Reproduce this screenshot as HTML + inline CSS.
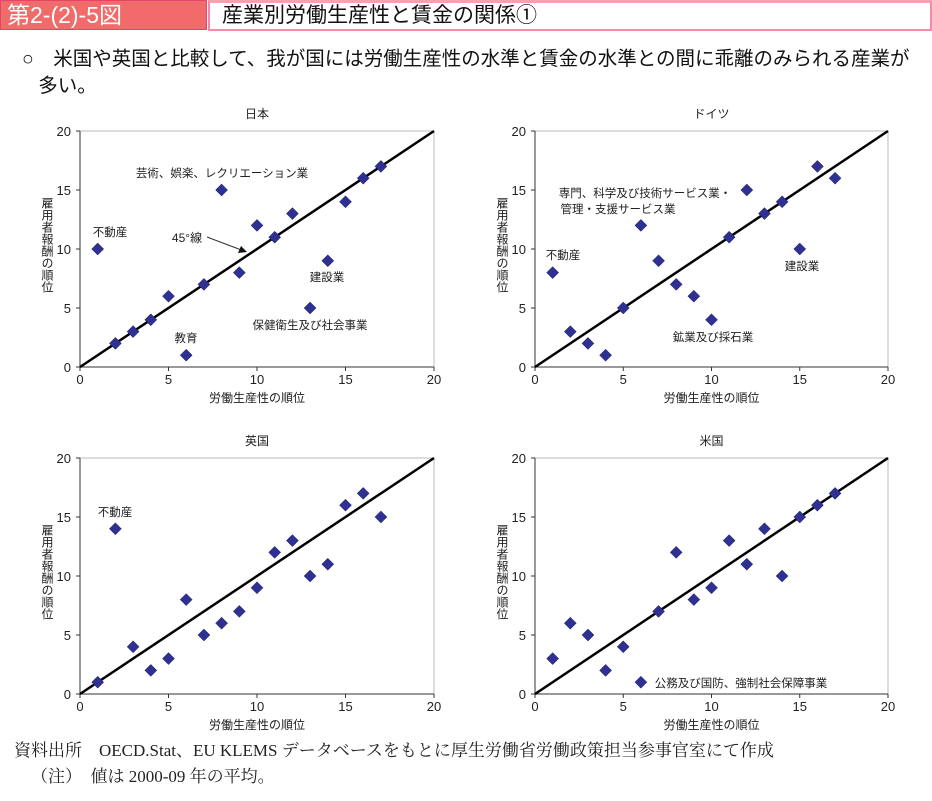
<!DOCTYPE html>
<html><head><meta charset="utf-8"><style>
body{margin:0;width:932px;height:801px;background:#fff;overflow:hidden;font-family:"Liberation Sans","Noto Sans CJK JP",sans-serif;}
#hdr1{position:absolute;left:0;top:0;width:207px;height:30px;background:#f26b6b;border:1px solid #e0456a;box-sizing:border-box;color:#fff;font-size:23px;line-height:28px;padding-left:6px;}
#hdr2{position:absolute;left:208px;top:0;width:724px;height:31px;border:2px solid #f48aa8;border-top:3px solid #f7a0b0;box-sizing:border-box;font-size:21px;line-height:26px;padding-left:12px;color:#111}
#lead{position:absolute;left:22px;top:46px;font-size:19.5px;line-height:27px;color:#111;width:910px}
#src{position:absolute;left:14px;top:738px;font-family:"Liberation Serif","Noto Serif CJK SC",serif;font-size:17px;line-height:26px;color:#222}
svg{position:absolute;left:0;top:0}
</style></head><body>
<div id="hdr1">第2-(2)-5図</div>
<div id="hdr2">産業別労働生産性と賃金の関係①</div>
<div id="lead">○　米国や英国と比較して、我が国には労働生産性の水準と賃金の水準との間に乖離のみられる産業が<br>&nbsp;&nbsp;&nbsp;多い。</div>
<div id="src">資料出所　OECD.Stat、EU KLEMS データベースをもとに厚生労働省労働政策担当参事官室にて作成<br>&nbsp;&nbsp;&nbsp;&nbsp;（注）　値は 2000-09 年の平均。</div>
<svg id="chart" width="932" height="801"></svg>
<script>
const categories = [1,2,3,4,5,6,7,8,9,10,11,12,13,14,15,16,17];
const japanValues = [10,2,3,4,6,1,7,15,8,12,11,13,5,9,14,16,17];
const germanyValues = [8,3,2,1,5,12,9,7,6,4,11,15,13,14,10,17,16];
const ukValues = [1,14,4,2,3,8,5,6,7,9,12,13,10,11,16,17,15];
const usValues = [3,6,5,2,4,1,7,12,8,9,13,11,14,10,15,16,17];
const tickLabels = [0,5,10,15,20];

const NS='http://www.w3.org/2000/svg';
const svg=document.getElementById('chart');
function mk(tag,attrs,parent){const e=document.createElementNS(NS,tag);for(const k in attrs)e.setAttribute(k,attrs[k]);(parent||svg).appendChild(e);return e;}
function txt(s,x,y,size,anchor,parent){const t=mk('text',{x:x,y:y,'font-size':size,'text-anchor':anchor||'middle',fill:'#222','font-family':'"Liberation Sans","Noto Sans CJK JP",sans-serif'},parent);t.textContent=s;return t;}

const panels=[
 {title:'日本',key:'japan',vals:japanValues,x0:80,x1:434,y0:367,y1:131,
  notes:[['芸術、娯楽、レクリエーション業',222,177],['不動産',110,236],['建設業',327,281],['保健衛生及び社会事業',310,329],['教育',186,342]]},
 {title:'ドイツ',key:'germany',vals:germanyValues,x0:535,x1:888,y0:367,y1:131,
  notes:[['専門、科学及び技術サービス業・',645,197],['管理・支援サービス業',618,213],['不動産',563,259],['建設業',802,270],['鉱業及び採石業',713,341]]},
 {title:'英国',key:'uk',vals:ukValues,x0:80,x1:434,y0:694,y1:458,
  notes:[['不動産',115,516]]},
 {title:'米国',key:'us',vals:usValues,x0:535,x1:888,y0:694,y1:458,
  notes:[['公務及び国防、強制社会保障事業',741,687]]}
];

panels.forEach(p=>{
  const g=mk('g',{});
  
  
  const sx=v=>p.x0+(p.x1-p.x0)*v/20;
  const sy=v=>p.y0-(p.y0-p.y1)*v/20;
  const t=txt(p.title,(p.x0+p.x1)/2,p.y1-13,12,'middle',g);
  
  
  mk('rect',{x:p.x0,y:p.y1,width:p.x1-p.x0,height:p.y0-p.y1,fill:'none',stroke:'#bbb','stroke-width':1},g);
  mk('line',{x1:p.x0,y1:p.y1,x2:p.x0,y2:p.y0,stroke:'#333','stroke-width':1},g);
  mk('line',{x1:p.x0,y1:p.y0,x2:p.x1,y2:p.y0,stroke:'#333','stroke-width':1},g);
  tickLabels.forEach(v=>{
    mk('line',{x1:sx(v),y1:p.y0,x2:sx(v),y2:p.y0+4,stroke:'#333'},g);
    mk('line',{x1:p.x0-4,y1:sy(v),x2:p.x0,y2:sy(v),stroke:'#333'},g);
    const xl=txt(String(v),sx(v),p.y0+17,13,'middle',g);
    
    
    const yl=txt(String(v),p.x0-9,sy(v)+5,13,'end',g);
    
    
  });
  const xt=txt('労働生産性の順位',(p.x0+p.x1)/2,p.y0+35,12,'middle',g);
  
  
  const yt=mk('text',{x:p.x0-33,y:p.y1+66,'font-size':12,fill:'#222','writing-mode':'tb','font-family':'"Liberation Sans","Noto Sans CJK JP",sans-serif'},g);
  yt.textContent='雇用者報酬の順位';
  
  
  const l=mk('line',{x1:sx(0),y1:sy(0),x2:sx(20),y2:sy(20),stroke:'#000','stroke-width':2.5},g);
  
  
  categories.forEach((c,i)=>{
    const cx=sx(c),cy=sy(p.vals[i]);
    const d=mk('polygon',{points:`${cx},${cy-6} ${cx+6},${cy} ${cx},${cy+6} ${cx-6},${cy}`,fill:'#2e3192',stroke:'#1a1a60','stroke-width':0.5},g);
    
    
  });
  p.notes.forEach(n=>{
    const a=txt(n[0],n[1],n[2],11.5,'middle',g);
    
    
  });
  if(p.key==='japan'){
    const a=txt('45°線',187,242,12,'middle',g);
    
    
    const ar=mk('line',{x1:207,y1:237,x2:244,y2:251,stroke:'#333','stroke-width':1},g);
    
    
    mk('polygon',{points:'247,252 238,253 241,246',fill:'#111'},g);
  }
});
</script>
</body></html>
